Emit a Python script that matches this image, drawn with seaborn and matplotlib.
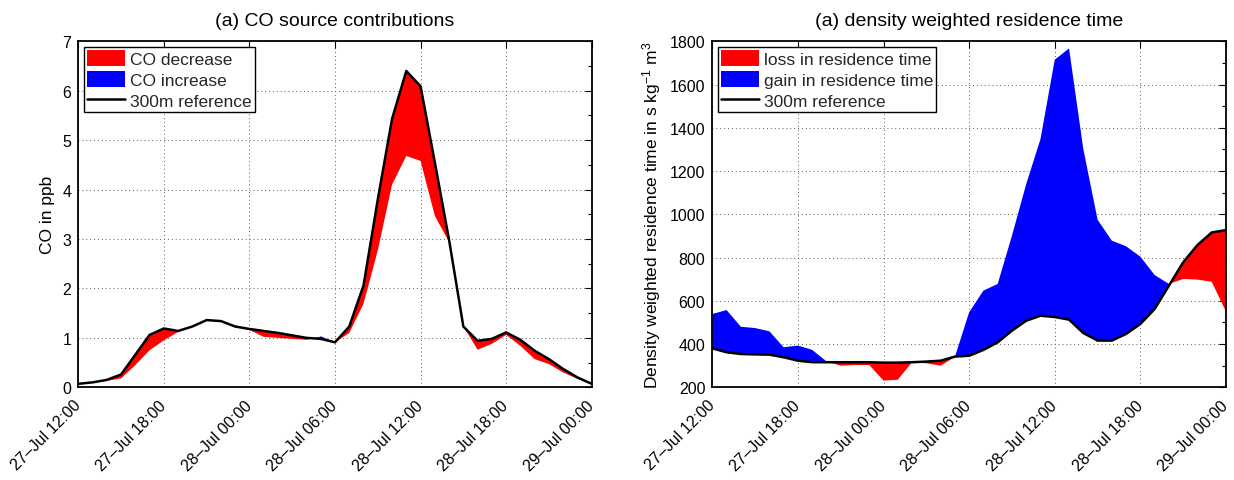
import numpy as np
import matplotlib
matplotlib.use("Agg")
import matplotlib.pyplot as plt
from matplotlib.patches import Patch
from matplotlib.lines import Line2D
from matplotlib.ticker import MultipleLocator, FixedLocator, FixedFormatter
import seaborn as sns

# ---------------- data ----------------
hours = list(range(0, 37))  # hours since 27-Jul 12:00

co_ref = [0.07, 0.10, 0.15, 0.26, 0.66, 1.06, 1.19, 1.14, 1.23, 1.36, 1.34, 1.23,
          1.18, 1.14, 1.10, 1.05, 1.00, 0.98, 0.91, 1.23, 2.06, 3.80, 5.43, 6.40,
          6.09, 4.55, 2.98, 1.23, 0.94, 0.98, 1.11, 0.96, 0.74, 0.57, 0.37, 0.20, 0.07]
co_model = [0.07, 0.09, 0.13, 0.18, 0.45, 0.75, 0.95, 1.12, 1.23, 1.36, 1.34, 1.23,
            1.16, 1.02, 1.00, 0.98, 0.96, 1.04, 0.91, 1.10, 1.69, 2.77, 4.10, 4.68,
            4.58, 3.47, 2.94, 1.23, 0.76, 0.88, 1.06, 0.84, 0.57, 0.47, 0.30, 0.17, 0.07]

rt_ref = [380, 362, 354, 352, 351, 339, 323, 316, 316, 316, 316, 316,
          314, 314, 316, 319, 323, 342, 346, 373, 408, 462, 508, 531,
          525, 513, 451, 416, 416, 447, 493, 562, 670, 778, 858, 916, 927]
rt_model = [539, 557, 480, 474, 459, 385, 393, 373, 320, 300, 303, 303,
            231, 235, 316, 311, 300, 340, 547, 647, 678, 901, 1140, 1348,
            1715, 1767, 1302, 975, 878, 852, 804, 719, 678, 701, 698, 688, 550]

tick_hours = [0, 6, 12, 18, 24, 30, 36]
tick_labels = ["27\u2013Jul 12:00", "27\u2013Jul 18:00", "28\u2013Jul 00:00",
               "28\u2013Jul 06:00", "28\u2013Jul 12:00", "28\u2013Jul 18:00",
               "29\u2013Jul 00:00"]

titles = ["(a) CO source contributions", "(a) density weighted residence time"]
ylabels = ["CO in ppb", "Density weighted residence time in s kg$^{-1}$ m$^{3}$"]
legend_labels = [["CO decrease", "CO increase", "300m reference"],
                 ["loss in residence time", "gain in residence time", "300m reference"]]

# ---------------- style ----------------
sns.set_theme(style="white")
plt.rcParams['font.family'] = ['Liberation Sans', 'DejaVu Sans']
plt.rcParams['mathtext.fontset'] = 'custom'
plt.rcParams['mathtext.rm'] = 'Liberation Sans'
plt.rcParams['mathtext.it'] = 'Liberation Sans:italic'
plt.rcParams['mathtext.bf'] = 'Liberation Sans:bold'

fig = plt.figure(figsize=(12.34, 4.81), dpi=100)
ax1 = fig.add_axes([78.3 / 1234, 1 - 388.3 / 481, 513.4 / 1234, 346 / 481])
ax2 = fig.add_axes([712.3 / 1234, 1 - 388.3 / 481, 513.7 / 1234, 346 / 481])

RED = "#ff0000"
BLUE = "#0000ff"

panels = [
    (ax1, co_ref, co_model, (0, 7), 1, 0.5),
    (ax2, rt_ref, rt_model, (200, 1800), 200, 100),
]

for i, (ax, ref, model, ylim, major, minor) in enumerate(panels):
    x = np.array(hours, dtype=float)
    r = np.array(ref, dtype=float)
    m = np.array(model, dtype=float)
    ax.fill_between(x, m, r, where=m < r, interpolate=True, color=RED, lw=0)
    ax.fill_between(x, m, r, where=m > r, interpolate=True, color=BLUE, lw=0)
    sns.lineplot(x=hours, y=ref, ax=ax, color="black", lw=1.8)

    ax.set_xlim(0, 36)
    ax.set_ylim(*ylim)
    ax.xaxis.set_major_locator(FixedLocator(tick_hours))
    ax.xaxis.set_major_formatter(FixedFormatter(tick_labels))
    ax.yaxis.set_major_locator(MultipleLocator(major))
    ax.yaxis.set_minor_locator(MultipleLocator(minor))
    ax.tick_params(axis='both', which='both', direction='in', top=True, right=True,
                   labelsize=11.5, color='black', labelcolor='black')
    ax.tick_params(axis='both', which='major', length=5, width=0.8, pad=5)
    ax.tick_params(axis='x', which='major', pad=11)
    ax.tick_params(axis='y', which='minor', length=3, width=0.8)
    for lab in ax.get_xticklabels():
        lab.set_rotation(45)
        lab.set_ha('right')
        lab.set_va('center')
        lab.set_rotation_mode('anchor')
    ax.grid(True, which='major', linestyle=(0, (1, 3)), linewidth=0.7, color='0.35')
    for sp in ax.spines.values():
        sp.set_visible(True)
        sp.set_color('black')
        sp.set_linewidth(1.3)
    ax.set_title(titles[i], fontsize=14, color='black', pad=12)
    ax.set_ylabel(ylabels[i], fontsize=12.5, color='black', labelpad=5)
    ax.set_xlabel("")

    handles = [Patch(facecolor=RED, edgecolor='none'),
               Patch(facecolor=BLUE, edgecolor='none'),
               Line2D([0], [0], color='black', lw=1.8)]
    leg = ax.legend(handles, legend_labels[i], loc='upper left', fontsize=12.5,
                    frameon=True, fancybox=False, edgecolor='black',
                    framealpha=1, borderaxespad=0.3, borderpad=0.2,
                    handlelength=2.2, handleheight=1.0, handletextpad=0.25,
                    labelspacing=0.25)
    leg.get_frame().set_linewidth(1.0)

fig.savefig("out.png", dpi=100)
